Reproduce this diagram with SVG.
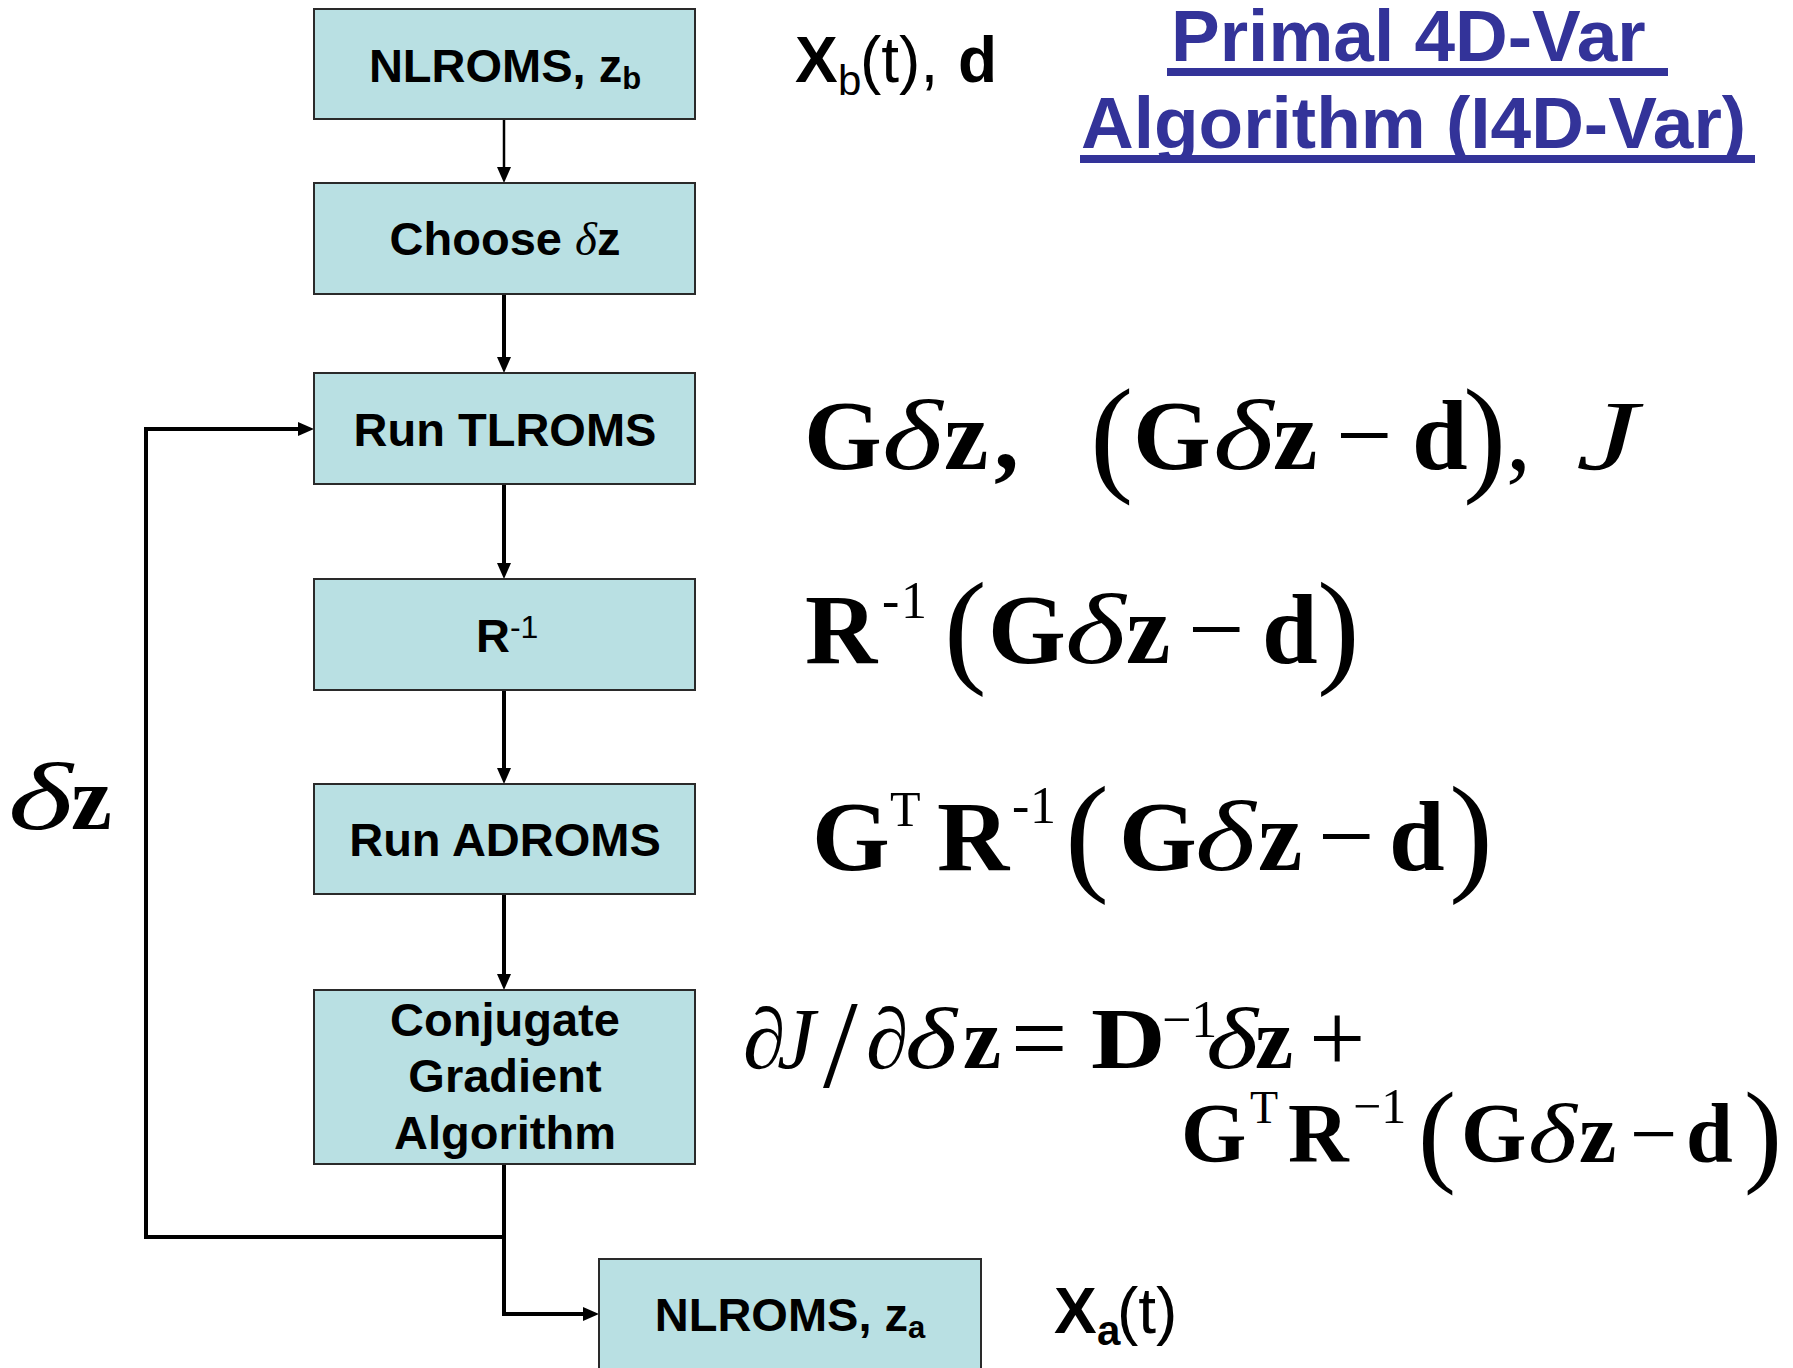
<svg xmlns="http://www.w3.org/2000/svg" width="1793" height="1368" viewBox="0 0 1793 1368">
<defs>
<style>
.box{fill:#B9E0E3;stroke:#2a2a2a;stroke-width:2}
.lbl{font-family:"Liberation Sans",Arial,sans-serif;font-weight:bold;font-size:47px;fill:#000}
.ann{font-family:"Liberation Sans",Arial,sans-serif;font-size:64px;fill:#000}
.m{font-family:"Liberation Serif","Times New Roman",serif;fill:#000}
.b{font-weight:bold}
.i{font-style:italic}
.r{font-weight:normal}
.conn{fill:none;stroke:#000;stroke-width:4}
.thin{stroke-width:2.5}
.title{font-family:"Liberation Sans",Arial,sans-serif;font-weight:bold;font-size:73px;fill:#333399}
.ul{fill:#333399}
</style>
<marker id="ah" markerUnits="userSpaceOnUse" markerWidth="16" markerHeight="14" refX="8" refY="7" orient="auto">
<path d="M0,0 L16,7 L0,14 z" fill="#000"/>
</marker>
</defs>
<rect width="1793" height="1368" fill="#fff"/>

<g id="connectors">
<path class="conn thin" d="M504,119 V175" marker-end="url(#ah)"/>
<path class="conn" d="M504,294 V365" marker-end="url(#ah)"/>
<path class="conn" d="M504,484 V571" marker-end="url(#ah)"/>
<path class="conn" d="M504,690 V776" marker-end="url(#ah)"/>
<path class="conn" d="M504,894 V982" marker-end="url(#ah)"/>
<path class="conn" d="M504,1164 V1237 H146 V429 H306" marker-end="url(#ah)"/>
<path class="conn" d="M504,1237 V1314 H591" marker-end="url(#ah)"/>
</g>

<g id="n1">
<rect class="box" x="314" y="9" width="381" height="110"/>
<text class="lbl" x="505" y="82" text-anchor="middle">NLROMS, z<tspan font-size="31" dy="7">b</tspan></text>
</g>
<g id="n2">
<rect class="box" x="314" y="183" width="381" height="111"/>
<text class="lbl" x="505" y="255" text-anchor="middle">Choose <tspan class="m i r">δ</tspan>z</text>
</g>
<g id="n3">
<rect class="box" x="314" y="373" width="381" height="111"/>
<text class="lbl" x="505" y="446" text-anchor="middle">Run TLROMS</text>
</g>
<g id="n4">
<rect class="box" x="314" y="579" width="381" height="111"/>
<text class="lbl" x="476" y="652">R<tspan class="r" font-size="32" dy="-14">-1</tspan></text>
</g>
<g id="n5">
<rect class="box" x="314" y="784" width="381" height="110"/>
<text class="lbl" x="505" y="856" text-anchor="middle">Run ADROMS</text>
</g>
<g id="n6">
<rect class="box" x="314" y="990" width="381" height="174"/>
<text class="lbl" text-anchor="middle"><tspan x="505" y="1036">Conjugate</tspan><tspan x="505" y="1092">Gradient</tspan><tspan x="505" y="1149">Algorithm</tspan></text>
</g>
<g id="n7">
<rect class="box" x="599" y="1259" width="382" height="120"/>
<text class="lbl" x="790" y="1331" text-anchor="middle">NLROMS, z<tspan font-size="31" dy="7">a</tspan></text>
</g>

<g id="title">
<text class="title" x="1171" y="61">Primal 4D-Var</text>
<rect class="ul" x="1167" y="68" width="501" height="8"/>
<text class="title" x="1081" y="148">Algorithm (I4D-Var)</text>
<rect class="ul" x="1080" y="155" width="675" height="8"/>
</g>

<g id="ann-xb">
<text class="ann" y="82"><tspan x="795" font-weight="bold">X</tspan><tspan x="838" y="95" font-size="42">b</tspan><tspan x="860" y="82">(t),</tspan><tspan x="958" font-weight="bold">d</tspan></text>
</g>
<g id="ann-xa">
<text class="ann" y="1333"><tspan x="1054" font-weight="bold">X</tspan><tspan x="1097" y="1345" font-size="42" font-weight="bold">a</tspan><tspan x="1117" y="1333">(t)</tspan></text>
</g>

<g id="f1" class="m" font-size="100">
<text y="469"><tspan class="b" x="804">G</tspan><tspan class="b" x="944">z</tspan><tspan class="b" x="994">,</tspan><tspan class="b" x="1133">G</tspan><tspan class="b" x="1273">z</tspan><tspan x="1336">−</tspan><tspan class="b" x="1412">d</tspan><tspan x="1506">,</tspan></text>
<text class="i" transform="translate(882,469) scale(1.3,1)">δ</text>
<text class="i" transform="translate(1213,469) scale(1.3,1)">δ</text>
<text class="i" transform="translate(1576,469) scale(1.4,1)">J</text>
<text y="478" font-size="130"><tspan x="1090">(</tspan><tspan x="1463">)</tspan></text>
</g>

<g id="f2" class="m" font-size="100">
<text y="663"><tspan class="b" x="805">R</tspan><tspan x="882" y="618" font-size="52">-</tspan><tspan x="901" y="618" font-size="52">1</tspan><tspan class="b" x="988" y="663">G</tspan><tspan class="b" x="1126">z</tspan><tspan x="1188">−</tspan><tspan class="b" x="1262">d</tspan></text>
<text class="i" transform="translate(1065,663) scale(1.3,1)">δ</text>
<text y="670" font-size="128"><tspan x="944">(</tspan><tspan x="1317">)</tspan></text>
</g>

<g id="f3" class="m" font-size="100">
<text y="870"><tspan class="b" x="812">G</tspan><tspan x="890" y="826" font-size="50">T</tspan><tspan class="b" x="937" y="870">R</tspan><tspan x="1012" y="823" font-size="52">-</tspan><tspan x="1030" y="823" font-size="52">1</tspan><tspan class="b" x="1119" y="870">G</tspan><tspan class="b" x="1258">z</tspan><tspan x="1318">−</tspan><tspan class="b" x="1389">d</tspan></text>
<text class="i" transform="translate(1195,870) scale(1.3,1)">δ</text>
<text y="877" font-size="132"><tspan x="1065">(</tspan><tspan x="1449">)</tspan></text>
</g>

<g id="f4" class="m" font-size="86">
<text y="1068"><tspan x="743">∂</tspan><tspan class="i" x="777">J</tspan><tspan x="866">∂</tspan><tspan class="b" x="963">z</tspan><tspan x="1162" y="1037" font-size="52">−1</tspan><tspan class="b" x="1255" y="1068">z</tspan></text>
<text class="i" transform="translate(905,1068) scale(1.3,1)">δ</text>
<text class="i" transform="translate(1206,1068) scale(1.3,1)">δ</text>
<text class="b" transform="translate(1091,1068) scale(1.2,1)">D</text>
<text x="1011" y="1072" font-size="100">=</text>
<text x="1309" y="1072" font-size="100">+</text>
<text x="823" y="1087" font-size="125">/</text>
<text y="1162" font-size="84"><tspan class="b" x="1181">G</tspan><tspan x="1250" y="1123" font-size="46">T</tspan><tspan class="b" x="1288" y="1162">R</tspan><tspan x="1353" y="1123" font-size="50">−1</tspan><tspan class="b" x="1461" y="1162">G</tspan><tspan class="b" x="1579">z</tspan><tspan x="1630">−</tspan><tspan class="b" x="1686">d</tspan></text>
<text class="i" font-size="84" transform="translate(1528,1162) scale(1.25,1)">δ</text>
<text y="1171" font-size="114"><tspan x="1418">(</tspan><tspan x="1744">)</tspan></text>
</g>

<g id="dz" class="m">
<text class="i" font-size="96" transform="translate(8,829) scale(1.45,1)">δ</text>
<text class="b" x="71" y="829" font-size="92">z</text>
</g>
</svg>
